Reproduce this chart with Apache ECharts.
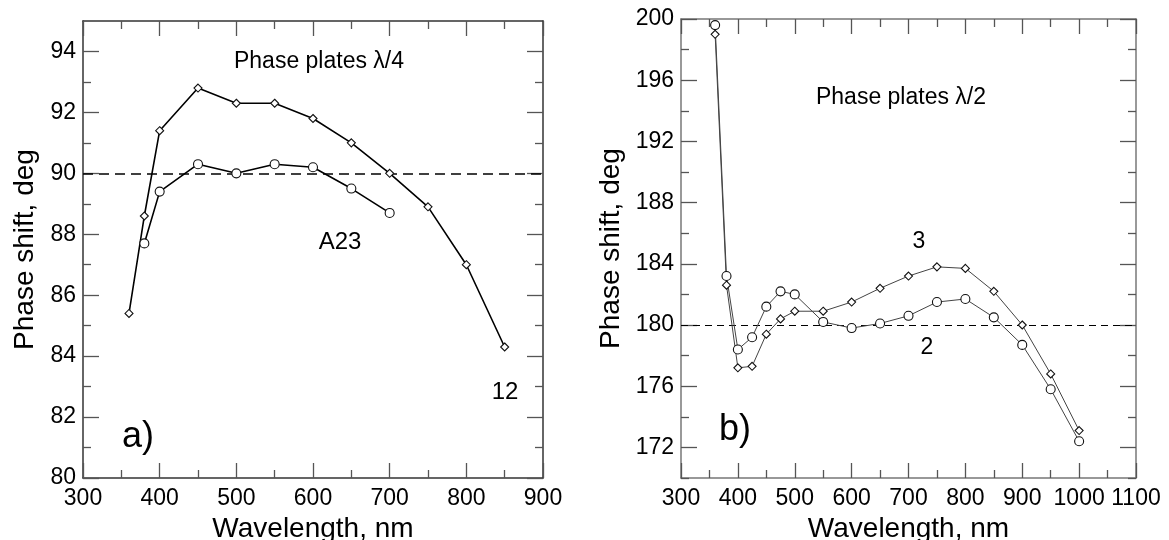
<!DOCTYPE html>
<html><head><meta charset="utf-8">
<script src="https://cdn.jsdelivr.net/npm/echarts/dist/echarts.min.js"></script>
<style>html,body{margin:0;padding:0;background:#fff}#c{width:1169px;height:540px}</style>
</head><body><div id="c"></div>
<script>
// ---- Data (panel a: lambda/4) ----
const wlA12 = [360, 380, 400, 450, 500, 550, 600, 650, 700, 750, 800, 850];
const valA12 = [85.4, 88.6, 91.4, 92.8, 92.3, 92.3, 91.8, 91.0, 90.0, 88.9, 87.0, 84.3];
const wlA23 = [380, 400, 450, 500, 550, 600, 650, 700];
const valA23 = [87.7, 89.4, 90.3, 90.0, 90.3, 90.2, 89.5, 88.7];
const refA = 90;
// ---- Data (panel b: lambda/2) ----
const wlB = [360, 380, 400, 425, 450, 475, 500, 550, 600, 650, 700, 750, 800, 850, 900, 950, 1000];
const valB3 = [199.0, 182.6, 177.2, 177.3, 179.4, 180.4, 180.9, 180.9, 181.5, 182.4, 183.2, 183.8, 183.7, 182.2, 180.0, 176.8, 173.1];
const valB2 = [199.6, 183.2, 178.4, 179.2, 181.2, 182.2, 182.0, 180.2, 179.8, 180.1, 180.6, 181.5, 181.7, 180.5, 178.7, 175.8, 172.4];
const refB = 180;
// ---- Tick values ----
const xTicksA = [300, 400, 500, 600, 700, 800, 900];
const xMinorA = [350, 450, 550, 650, 750, 850];
const yTicksA = [80, 82, 84, 86, 88, 90, 92, 94];
const yMinorA = [81, 83, 85, 87, 89, 91, 93];
const xTicksB = [300, 400, 500, 600, 700, 800, 900, 1000, 1100];
const xMinorB = [350, 450, 550, 650, 750, 850, 950, 1050];
const yTicksB = [172, 176, 180, 184, 188, 192, 196, 200];
const yMinorB = [170, 174, 178, 182, 186, 190, 194, 198];
// ---- Texts ----
const xName = 'Wavelength, nm';
const yName = 'Phase shift, deg';

const FONT = '"Liberation Sans", Arial, sans-serif';

const gridA = {left: 83, top: 21, width: 460, height: 457, containLabel: false, outerBoundsMode: 'none'};
const gridB = {left: 681, top: 19, width: 455, height: 459, containLabel: false, outerBoundsMode: 'none'};

function axis(gridIndex, position, min, max, ticks, len, showLabel, showLine, frameColor, name, nameGap, isX) {
  return {
    type: 'value', gridIndex, position, min, max,
    axisLine: {show: showLine, onZero: false, lineStyle: {color: frameColor, width: 1.5}},
    axisTick: {show: true, inside: true, length: len, customValues: ticks, lineStyle: {color: '#555', width: 1.3}},
    axisLabel: {show: showLabel, customValues: ticks, color: '#000', fontFamily: FONT, fontSize: 23,
                margin: isX ? 9 : 7, formatter: v => String(v), hideOverlap: false},
    splitLine: {show: false},
    name: name || '', nameLocation: 'middle', nameGap: nameGap || 0,
    nameTextStyle: {color: '#000', fontFamily: FONT, fontSize: 28}
  };
}

const cA = '#333', cB = '#777';
const xAxis = [
  axis(0, 'bottom', 300, 900, xTicksA, 15, true, true, cA, xName, 35, true),
  axis(0, 'top', 300, 900, xTicksA, 15, false, true, cA),
  axis(1, 'bottom', 300, 900, xMinorA, 8, false, false, cA),
  axis(1, 'top', 300, 900, xMinorA, 8, false, false, cA),
  axis(2, 'bottom', 300, 1100, xTicksB, 15, true, true, cB, xName, 35, true),
  axis(2, 'top', 300, 1100, xTicksB, 15, false, true, cB),
  axis(3, 'bottom', 300, 1100, xMinorB, 8, false, false, cB),
  axis(3, 'top', 300, 1100, xMinorB, 8, false, false, cB)
];
const yAxis = [
  axis(0, 'left', 80, 95, yTicksA, 16, true, true, cA, yName, 44),
  axis(0, 'right', 80, 95, yTicksA, 16, false, true, cA),
  axis(1, 'left', 80, 95, yMinorA, 8, false, false, cA),
  axis(1, 'right', 80, 95, yMinorA, 8, false, false, cA),
  axis(2, 'left', 170, 200, yTicksB, 16, true, true, cB, yName, 56),
  axis(2, 'right', 170, 200, yTicksB, 16, false, true, cB),
  axis(3, 'left', 170, 200, yMinorB, 8, false, false, cB),
  axis(3, 'right', 170, 200, yMinorB, 8, false, false, cB)
];

function zip(xs, ys) { return xs.map((x, i) => [x, ys[i]]); }

function lineSeries(xi, yi, data, symbol, size, color, width, ref, dash, refWidth) {
  const s = {
    type: 'line', xAxisIndex: xi, yAxisIndex: yi, data,
    symbol, symbolSize: size, showAllSymbol: true, animation: false, z: 3,
    lineStyle: {color, width},
    itemStyle: {color: '#fff', borderColor: '#111', borderWidth: 1.1}
  };
  if (ref !== undefined) {
    s.markLine = {
      silent: true, symbol: 'none', animation: false, z: 1,
      label: {show: false},
      lineStyle: {color: '#000', width: refWidth, type: dash},
      data: [{yAxis: ref}]
    };
  }
  return s;
}

const series = [
  lineSeries(0, 0, zip(wlA12, valA12), 'diamond', 8, '#000', 1.6, refA, [10, 6], 1.5),
  lineSeries(0, 0, zip(wlA23, valA23), 'circle', 9, '#000', 1.6),
  lineSeries(4, 4, zip(wlB, valB3), 'diamond', 8, '#444', 1),
  lineSeries(4, 4, zip(wlB, valB2), 'circle', 9, '#444', 1, refB, [7, 5], 1)
];

function txt(x, y, text, size) {
  return {type: 'text', x, y, style: {text, fontFamily: FONT, fontSize: size, fill: '#000', align: 'center', verticalAlign: 'middle'}, z: 10};
}

const chart = echarts.init(document.getElementById('c'), null, {renderer: 'canvas'});
chart.setOption({
  animation: false,
  backgroundColor: '#fff',
  grid: [
    Object.assign({}, gridA), Object.assign({}, gridA),
    Object.assign({}, gridB), Object.assign({}, gridB)
  ],
  xAxis, yAxis, series,
  graphic: [
    txt(319, 62, 'Phase plates λ/4', 23),
    txt(340, 242, 'A23', 24),
    txt(505, 392, '12', 24),
    txt(138, 437, 'a)', 36),
    txt(901, 98, 'Phase plates λ/2', 23),
    txt(919, 242, '3', 23),
    txt(927, 348, '2', 23),
    txt(735, 430, 'b)', 36)
  ]
});
</script></body></html>
